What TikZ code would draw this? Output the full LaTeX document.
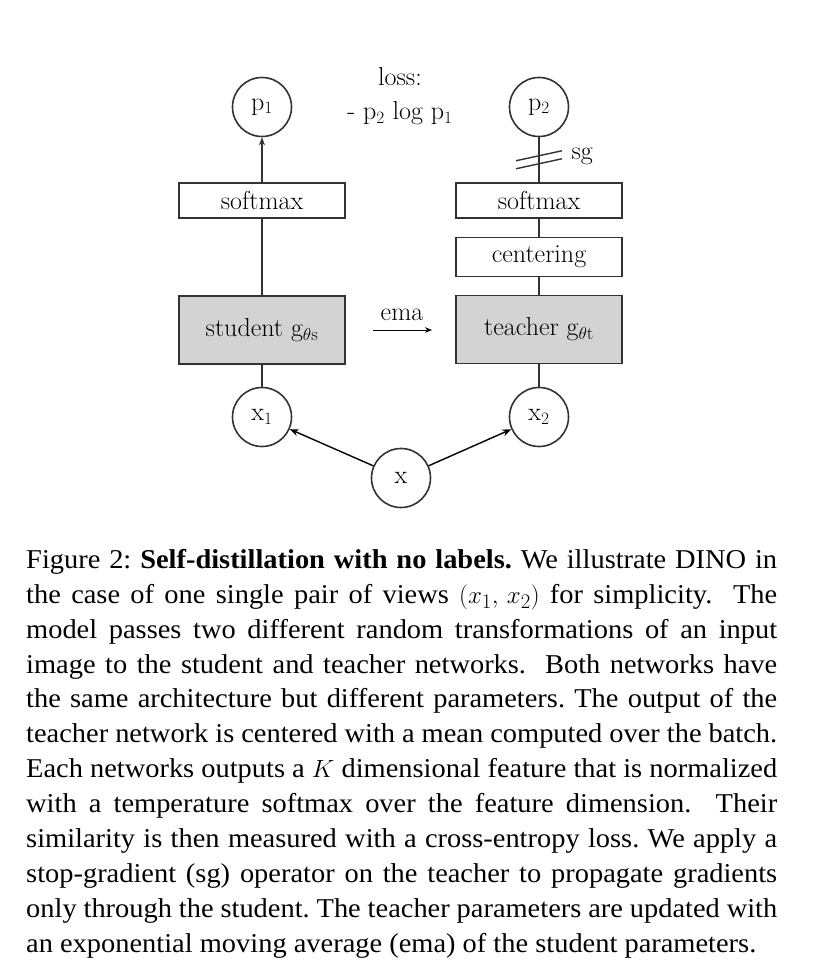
\documentclass[tikz,border=0pt]{standalone}
\usepackage{fontspec}
\newfontfamily\capfont[FakeStretch=1.045]{Liberation Serif}
\usetikzlibrary{arrows.meta,calc}
\definecolor{linec}{HTML}{333333}
\definecolor{boxfill}{HTML}{D3D3D3}
\newcommand\capline[1]{\hbox to 751pt{#1}}
\begin{document}
\begin{tikzpicture}[x=1pt,y=-1pt,
  diagtext/.style={font=\fontsize{26}{30}\selectfont},
  circ/.style={circle,draw=linec,line width=1.6pt,minimum size=59pt,inner sep=0pt,diagtext},
  plainbox/.style={draw=linec,line width=1.6pt,minimum width=166pt,minimum height=35pt,inner sep=0pt,diagtext},
  netbox/.style={plainbox,fill=boxfill,minimum height=68pt},
  conn/.style={draw=linec,line width=1.6pt},
  arr/.style={draw=black,line width=1.4pt,-{Stealth[length=9pt,width=7pt]}},
  thinarr/.style={draw=black,line width=0.9pt,-{Stealth[length=7pt,width=5.5pt]}},
]
\useasboundingbox (0,0) rectangle (816,971);
\fill[white] (0,0) rectangle (816,971);

% student column
\node[circ] (p1) at (262,107) {$\mathrm{p}_1$};
\node[plainbox] (sm1) at (262,200.5) {softmax};
\node[netbox] (stu) at (262,330) {student $\mathrm{g}_{\theta\mathrm{s}}$};
\node[circ] (x1) at (262,417) {$\mathrm{x}_1$};

% teacher column
\node[circ] (p2) at (539,107) {$\mathrm{p}_2$};
\node[plainbox] (sm2) at (539,200.5) {softmax};
\node[plainbox,minimum height=39pt] (cen) at (539,257) {centering};
\node[netbox] (tea) at (539,329.5) {teacher $\mathrm{g}_{\theta\mathrm{t}}$};
\node[circ] (x2) at (539,417) {$\mathrm{x}_2$};

% input
\node[circ] (x) at (401,478) {x};

% loss
\node[diagtext] (losslbl) at (400,77) {loss:};
\node[diagtext] (lossf) at (400,113) {- $\mathrm{p}_2$ log $\mathrm{p}_1$};

% ema
\node[diagtext] (ema) at (402,315) {ema};
\coordinate (emaA) at (373,330);
\coordinate (emaB) at (432,330);
\draw[thinarr] (emaA) -- (emaB);

% connectors
\draw[arr] (x) -- (x1);
\draw[arr] (x) -- (x2);
\draw[conn] (x1) -- (stu);
\draw[conn] (x2) -- (tea);
\draw[conn] (stu) -- (sm1);
\draw[conn,-{Stealth[length=8pt,width=6pt]}] (sm1) -- (p1);
\draw[conn] (tea) -- (cen);
\draw[conn] (cen) -- (sm2);
\draw[conn] (sm2) -- (p2);

% stop-gradient marks
\coordinate (m) at ($(sm2.north)!0.5!(p2.south)$);
\draw[conn,line width=1.4pt] ($(m)+(-23,1)$) -- ($(m)+(23,-9)$);
\draw[conn,line width=1.4pt] ($(m)+(-23,9)$) -- ($(m)+(23,-1)$);
\node[diagtext,anchor=west] (sg) at (568,156) {sg};

% caption
\node[anchor=north west,inner sep=0pt,align=left,
      font=\capfont\fontsize{27.2}{34.9}\selectfont\frenchspacing] (cap) at (26,549) {%
\capline{Figure 2: \textbf{Self-distillation with no labels.} We illustrate DINO in}\\
\capline{the case of one single pair of views $(x_1,\,x_2)$ for simplicity.\ \ The}\\
\capline{model passes two different random transformations of an input}\\
\capline{image to the student and teacher networks.\ \ Both networks have}\\
\capline{the same architecture but different parameters. The output of the}\\
\capline{teacher network is centered with a mean computed over the batch.}\\
\capline{Each networks outputs a $K$ dimensional feature that is normalized}\\
\capline{with a temperature softmax over the feature dimension.\ \ Their}\\
\capline{similarity is then measured with a cross-entropy loss. We apply a}\\
\capline{stop-gradient (sg) operator on the teacher to propagate gradients}\\
\capline{only through the student. The teacher parameters are updated with}\\
\hbox{an exponential moving average (ema) of the student parameters.}};
\end{tikzpicture}
\end{document}
